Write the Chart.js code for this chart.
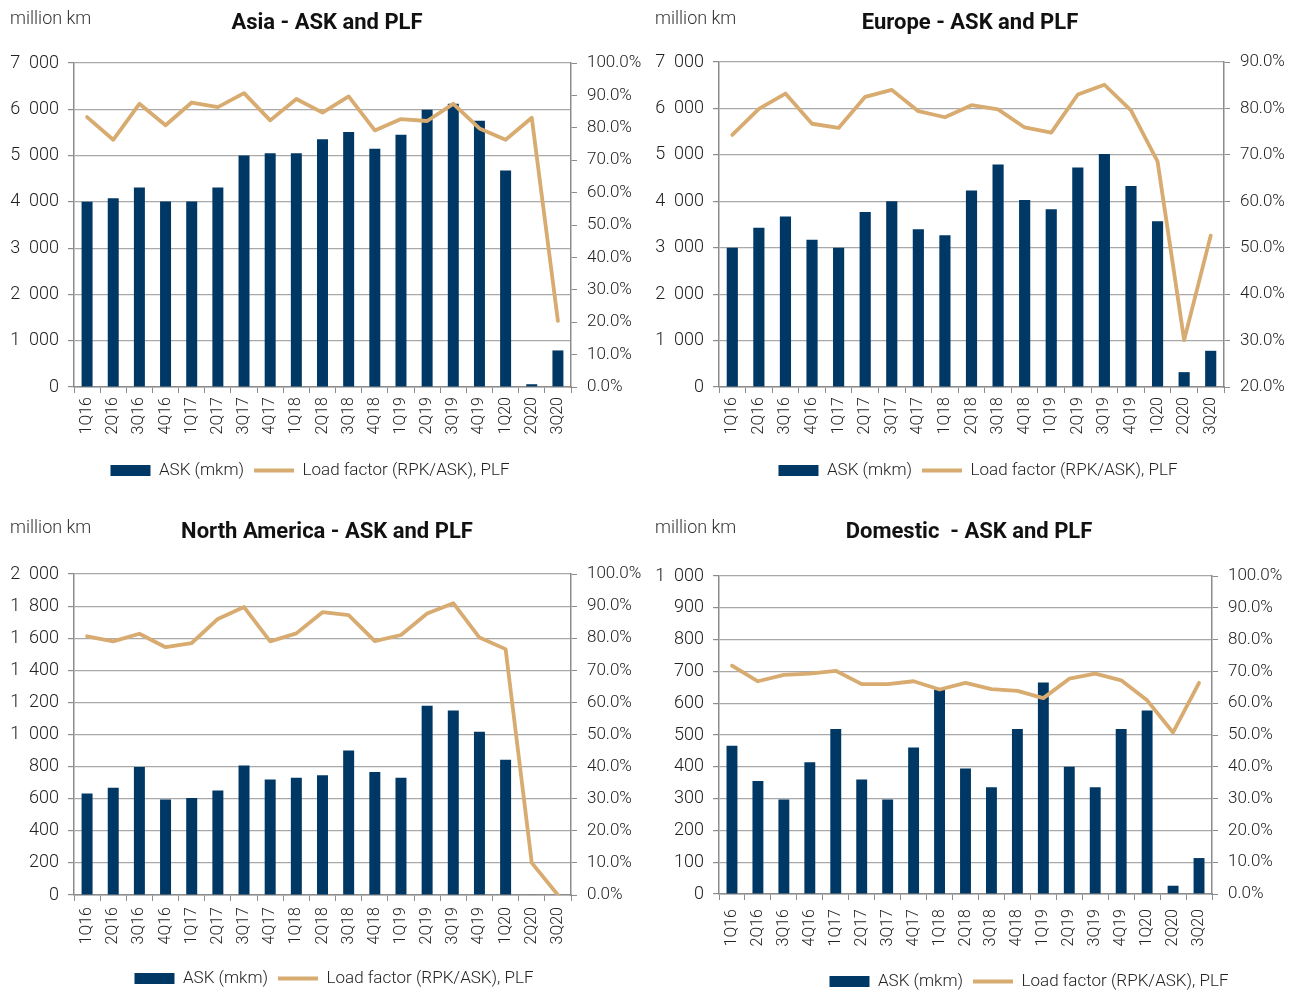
<!DOCTYPE html>
<html>
<head>
<meta charset="utf-8">
<script src="https://cdn.jsdelivr.net/npm/chart.js@4/dist/chart.umd.min.js"></script>
<style>
  html, body { margin: 0; padding: 0; background: #fff; overflow: hidden; }
  body { width: 1299px; height: 991px; position: relative; font-family: Roboto, "Open Sans", sans-serif; }
  canvas { position: absolute; }
  .title { position: absolute; transform: translate(-50%, -50%); font-weight: bold; font-size: 22px; color: #111; white-space: pre; z-index: 2; }
  .unit { position: absolute; transform: translateY(-50%); font-size: 18px; color: #333; white-space: pre; font-weight: 300; z-index: 2; }
</style>
</head>
<body>
<div class="unit" style="left:10px; top:17px;">million km</div>
<div class="title" style="left:327px; top:21px;">Asia - ASK and PLF</div>
<div class="unit" style="left:655px; top:17px;">million km</div>
<div class="title" style="left:970px; top:21px;">Europe - ASK and PLF</div>
<div class="unit" style="left:10px; top:526px;">million km</div>
<div class="title" style="left:327px; top:530px;">North America - ASK and PLF</div>
<div class="unit" style="left:655px; top:526px;">million km</div>
<div class="title" style="left:969px; top:530px;">Domestic  - ASK and PLF</div>

<canvas id="asia" width="680" height="495" style="left:-30px; top:0;"></canvas>
<canvas id="europe" width="656" height="495" style="left:650px; top:0;"></canvas>
<canvas id="na" width="668" height="500" style="left:0; top:500px;"></canvas>
<canvas id="domestic" width="758" height="500" style="left:650px; top:500px;"></canvas>

<script>
// Quarters shown on every x axis
const quarters = ['1Q16','2Q16','3Q16','4Q16','1Q17','2Q17','3Q17','4Q17','1Q18','2Q18','3Q18','4Q18','1Q19','2Q19','3Q19','4Q19','1Q20','2Q20','3Q20'];

// Available seat kilometres (million km) and passenger load factor (%)
const asiaAsk = [4000,4080,4310,4010,4010,4310,5000,5050,5050,5350,5510,5150,5450,5990,6120,5750,4680,60,790];
const asiaPlf = [83.3,76.3,87.4,80.8,87.8,86.4,90.7,82.3,88.9,84.7,89.7,79.2,82.7,82.1,87.4,79.8,76.3,83.1,20.4];

const europeAsk = [3000,3430,3670,3170,3000,3770,4000,3400,3270,4230,4790,4030,3830,4730,5020,4330,3570,320,780];
const europePlf = [74.3,79.9,83.2,76.7,75.8,82.5,84.0,79.4,78.1,80.7,79.8,75.9,74.8,83.0,85.1,79.6,68.6,30.1,52.6];

const naAsk = [632,669,798,595,605,651,807,719,730,746,900,767,730,1179,1150,1017,842,4,0];
const naPlf = [80.6,79.0,81.4,77.2,78.5,86.0,89.7,79.0,81.5,88.1,87.2,79.1,81.0,87.7,90.9,80.2,76.6,10.0,0];

const domesticAsk = [466,355,297,414,519,360,297,461,644,395,336,519,665,400,336,519,577,26,113];
const domesticPlf = [71.8,66.9,68.9,69.3,70.2,66.0,66.0,66.9,64.3,66.4,64.4,63.9,61.6,67.7,69.3,67.2,60.9,50.8,66.4];

// Axis ranges: [min, max, step]
const asiaAskAxis = [0, 7000, 1000];
const asiaPlfAxis = [0, 100, 10];
const europeAskAxis = [0, 7000, 1000];
const europePlfAxis = [20, 90, 10];
const naAskAxis = [0, 2000, 200];
const naPlfAxis = [0, 100, 10];
const domesticAskAxis = [0, 1000, 100];
const domesticPlfAxis = [0, 100, 10];

const seriesNames = ['ASK (mkm)', 'Load factor (RPK/ASK), PLF'];

const NAVY = '#003865';
const TAN = '#D8AB70';
const GRID = '#a9a9a9';
const AXIS = '#8c8c8c';
const TEXT = '#222222';
const FONT = 'Roboto, "Open Sans", sans-serif';

// "7 000" style thousands grouping
function fmtKm(v) {
  if (v >= 1000) {
    const th = Math.floor(v / 1000);
    const rest = String(v % 1000).padStart(3, '0');
    return th + '  ' + rest;
  }
  return String(v);
}
const fmtPct = v => v.toFixed(1) + '%';

function buildChart(id, ask, plf, askAxis, plfAxis, lay) {
  return new Chart(document.getElementById(id), {
    data: {
      labels: quarters,
      datasets: [
        {
          type: 'bar', label: seriesNames[0], data: ask, yAxisID: 'y', order: 1,
          backgroundColor: NAVY, borderColor: NAVY, borderWidth: 0,
          barPercentage: 0.42, categoryPercentage: 1.0, pointStyle: 'rect'
        },
        {
          type: 'line', label: seriesNames[1], data: plf, yAxisID: 'y1', order: 0,
          borderColor: TAN, backgroundColor: TAN, borderWidth: 3.8, tension: 0,
          pointRadius: 0, pointStyle: 'line', borderCapStyle: 'round', borderJoinStyle: 'round'
        }
      ]
    },
    options: {
      responsive: false,
      animation: false,
      events: [],
      layout: { padding: lay.pad },
      plugins: {
        title: { display: false },
        tooltip: { enabled: false },
        legend: {
          position: 'bottom',
          align: 'center',
          labels: {
            usePointStyle: true, pointStyleWidth: 40, boxHeight: 11, padding: 10,
            color: TEXT, font: { family: FONT, size: 17, weight: '300' },
            sort: (a, b) => a.datasetIndex - b.datasetIndex
          }
        }
      },
      scales: {
        x: {
          type: 'category', offset: true,
          grid: { offset: true, drawOnChartArea: false, drawTicks: true, tickLength: 6, tickColor: AXIS },
          border: { color: AXIS, width: 1.5 },
          ticks: { autoSkip: false, minRotation: 90, maxRotation: 90, padding: lay.xPad, color: TEXT,
                   font: { family: FONT, size: 16, weight: '300' } },
          afterFit: s => { s.height = lay.xh; }
        },
        y: {
          position: 'left', min: askAxis[0], max: askAxis[1],
          ticks: { stepSize: askAxis[2], callback: fmtKm, padding: 9, color: TEXT,
                   font: { family: FONT, size: 18, weight: '300' } },
          grid: { color: GRID, lineWidth: 1.2, tickLength: 6, tickColor: AXIS },
          border: { color: AXIS, width: 1.5 },
          afterFit: s => { s.width = lay.lw; }
        },
        y1: {
          position: 'right', min: plfAxis[0], max: plfAxis[1],
          ticks: { stepSize: plfAxis[2], callback: fmtPct, padding: 10, color: TEXT,
                   font: { family: FONT, size: 17, weight: '300' } },
          grid: { drawOnChartArea: false, tickLength: 6, tickColor: AXIS },
          border: { color: AXIS, width: 1.5 },
          afterFit: s => { s.width = lay.rw; }
        }
      }
    }
  });
}

buildChart('asia', asiaAsk, asiaPlf, asiaAskAxis, asiaPlfAxis,
  { pad: { top: 63, left: 0, right: 0, bottom: 6 }, lw: 104, rw: 79, xh: 65, xPad: 4 });
buildChart('europe', europeAsk, europePlf, europeAskAxis, europePlfAxis,
  { pad: { top: 62, left: 0, right: 0, bottom: 6 }, lw: 69, rw: 82, xh: 65, xPad: 4 });
buildChart('na', naAsk, naPlf, naAskAxis, naPlfAxis,
  { pad: { top: 74, left: 0, right: 0, bottom: 3 }, lw: 74, rw: 97, xh: 65, xPad: 6 });
buildChart('domestic', domesticAsk, domesticPlf, domesticAskAxis, domesticPlfAxis,
  { pad: { top: 76, left: 0, right: 0, bottom: 0 }, lw: 69, rw: 196, xh: 69, xPad: 9 });
</script>
</body>
</html>
